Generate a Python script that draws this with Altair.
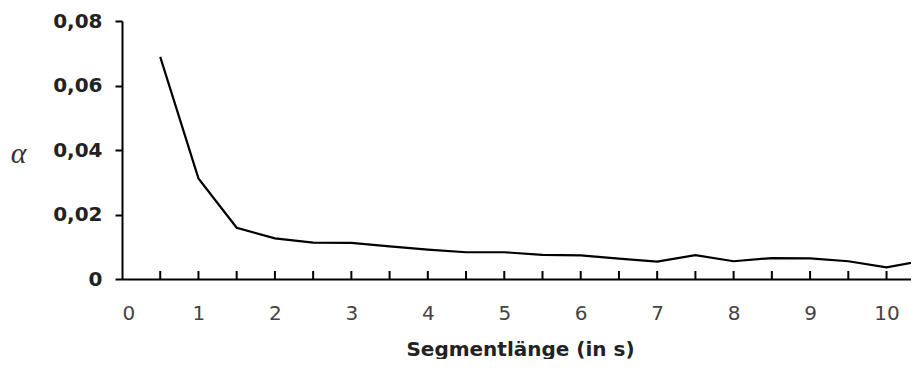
import altair as alt
import pandas as pd

seg = [0.5, 1.0, 1.5, 2.0, 2.5, 3.0, 3.5, 4.0, 4.5, 5.0, 5.5, 6.0, 6.5, 7.0, 7.5, 8.0, 8.5, 9.0, 9.5, 10.0, 10.5]
alpha = [0.0689, 0.0312, 0.0159, 0.0126, 0.0113, 0.0112, 0.0101, 0.0091, 0.0083, 0.0083, 0.0075,
         0.0073, 0.0063, 0.0054, 0.0074, 0.0055, 0.0065, 0.0064, 0.0055, 0.0036, 0.0058]
x_ticks = [0.5 * i for i in range(1, 21)]
x_labels = list(range(0, 11))
y_ticks = [0, 0.02, 0.04, 0.06, 0.08]

df = pd.DataFrame({"seg": seg, "alpha": alpha})
ticks_df = pd.DataFrame({"t": x_ticks})

xscale = alt.Scale(domain=[0, 10.32], nice=False, zero=False)
yscale = alt.Scale(domain=[0, 0.08], nice=False)

line = alt.Chart(df).mark_line(color="black", strokeWidth=2.2, clip=True).encode(
    x=alt.X("seg:Q", scale=xscale,
            axis=alt.Axis(values=x_labels, format="d", ticks=False, tickSize=0, grid=False,
                          domainColor="black", domainWidth=2,
                          labelFont="DejaVu Sans", labelFontSize=20, labelColor="#444",
                          labelPadding=24, labelBaseline="top",
                          title="Segmentlänge (in s)", titleFont="DejaVu Sans",
                          titleFontSize=20, titleFontWeight="bold", titleColor="#222",
                          titleY=76, titleX=398, titleAnchor="middle", titleBaseline="alphabetic")),
    y=alt.Y("alpha:Q", scale=yscale,
            axis=alt.Axis(values=y_ticks, grid=False, domainColor="black", domainWidth=2,
                          tickColor="black", tickWidth=2, tickSize=7,
                          labelFont="DejaVu Sans", labelFontSize=20, labelFontWeight="bold",
                          labelColor="#222", labelPadding=13,
                          labelExpr="datum.value == 0 ? '0' : replace(format(datum.value, '.2f'), '.', ',')",
                          title="α", titleAngle=0, titleFont="Liberation Serif",
                          titleFontStyle="italic", titleFontWeight="normal", titleFontSize=30,
                          titleColor="#333", titleX=-104, titleY=132,
                          titleAlign="center", titleBaseline="middle")),
)

tick_marks = alt.Chart(ticks_df).mark_rule(color="black", strokeWidth=2).encode(
    x=alt.X("t:Q", scale=xscale),
    y=alt.value(250),
    y2=alt.value(258),
)

chart = (
    alt.layer(line, tick_marks)
    .properties(
        width=789, height=258,
        autosize=alt.AutoSizeParams(type="none"),
        padding={"left": 114, "top": 13, "right": 0, "bottom": 80},
    )
    .configure(background="white")
    .configure_view(stroke="transparent", strokeWidth=0)
    .configure_axis(grid=False)
)

chart.save("out.html", embed_options={"renderer": "svg", "actions": False})
